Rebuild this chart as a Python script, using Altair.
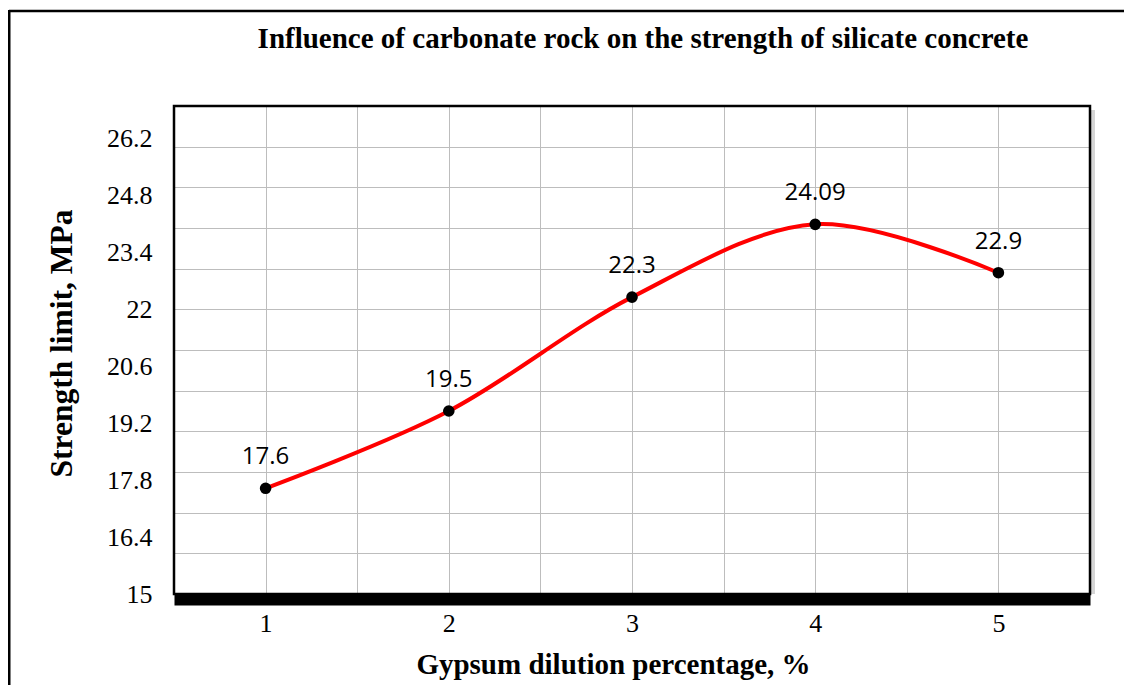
import altair as alt
import pandas as pd

# ---- data ----
dilution = [1, 2, 3, 4, 5]
strength = [17.6, 19.5, 22.3, 24.09, 22.9]
point_labels = ["17.6", "19.5", "22.3", "24.09", "22.9"]
y_label_values = [15, 16.4, 17.8, 19.2, 20.6, 22, 23.4, 24.8, 26.2]
y_grid_values = [16, 17, 18, 19, 20, 21, 22, 23, 24, 25, 26]
x_tick_values = [1, 1.5, 2, 2.5, 3, 3.5, 4, 4.5, 5]
y_domain = [15, 27]
x_domain = [0.5, 5.5]

title_text = "Influence of carbonate rock on the strength of silicate concrete"
x_title = "Gypsum dilution percentage, %"
y_title = "Strength limit, MPa"

df = pd.DataFrame({"x": dilution, "y": strength, "label": point_labels})
one = pd.DataFrame({"t": [title_text]})

W, H = 916, 488
SERIF = "Liberation Serif"
GRID = "#bdbdbd"

xs = alt.Scale(domain=x_domain, nice=False, zero=False)
ys = alt.Scale(domain=y_domain, nice=False, zero=False)

x_axis = alt.Axis(
    values=x_tick_values,
    labelExpr="datum.value % 1 == 0 ? format(datum.value, 'd') : ''",
    grid=True, gridColor=GRID, gridWidth=1,
    ticks=False, tickSize=0,
    domain=True, domainColor="black", domainWidth=11, offset=5.5,
    labelFont=SERIF, labelFontSize=26, labelColor="black", labelPadding=11,
    title=x_title, titleFont=SERIF, titleFontSize=29, titleFontWeight="bold",
    titleColor="black", titleX=439, titleY=74, titleAlign="center",
    titleBaseline="alphabetic",
)
X = alt.X("x:Q", scale=xs, axis=x_axis)

y_grid_axis = alt.Axis(
    values=y_grid_values, orient="left", grid=True, gridColor=GRID, gridWidth=1,
    labels=False, ticks=False, domain=False, title="",
)
y_label_axis = alt.Axis(
    values=y_label_values, orient="left", grid=False, ticks=False, tickSize=0,
    domain=False, labelExpr="format(datum.value, '.3~g')",
    labelFont=SERIF, labelFontSize=26, labelColor="black", labelPadding=22,
    title=y_title, titleFont=SERIF, titleFontSize=31.5, titleFontWeight="bold",
    titleColor="black", titleX=-112, titleY=237, titleAngle=270,
    titleAlign="center", titleBaseline="middle",
)

line = alt.Chart(df).mark_line(
    color="#ff0000", strokeWidth=4, interpolate="cardinal"
).encode(x=X, y=alt.Y("y:Q", scale=ys, axis=y_grid_axis))

points = alt.Chart(df).mark_circle(
    color="black", opacity=1, size=135
).encode(x=X, y=alt.Y("y:Q", scale=ys, axis=y_label_axis))

texts = alt.Chart(df).mark_text(
    font="Open Sans", fontSize=24, color="black", dy=-24,
    baseline="alphabetic", align="center"
).encode(x=X, y=alt.Y("y:Q", scale=ys, axis=None), text="label:N")

plot_frame = alt.Chart(one).mark_rect(
    filled=False, stroke="black", strokeWidth=2.5
).encode(x=alt.value(0), x2=alt.value(W), y=alt.value(0), y2=alt.value(H))

right_shadow = alt.Chart(one).mark_rule(
    color="#888888", strokeWidth=4, opacity=0.35
).encode(x=alt.value(W + 3), y=alt.value(4), y2=alt.value(H))

frame_top = alt.Chart(one).mark_rule(color="black", strokeWidth=2.5).encode(
    x=alt.value(-165), x2=alt.value(960), y=alt.value(-95)
)
frame_left = alt.Chart(one).mark_rule(color="black", strokeWidth=3).encode(
    x=alt.value(-165), y=alt.value(-96), y2=alt.value(600)
)

title_mark = alt.Chart(one).mark_text(
    font=SERIF, fontSize=29, fontWeight="bold", color="black",
    align="center", baseline="alphabetic"
).encode(x=alt.value(469), y=alt.value(-58), text="t:N")

chart = alt.layer(
    right_shadow, plot_frame, line, points, texts, frame_top, frame_left, title_mark
).resolve_axis(y="independent").properties(
    width=W, height=H,
    autosize=alt.AutoSizeParams(type="none"),
    padding={"left": 166, "top": 98, "right": 34, "bottom": 91},
).configure_view(stroke=None).configure(background="white")

chart.save("out.html", embed_options={"renderer": "svg", "actions": False})
